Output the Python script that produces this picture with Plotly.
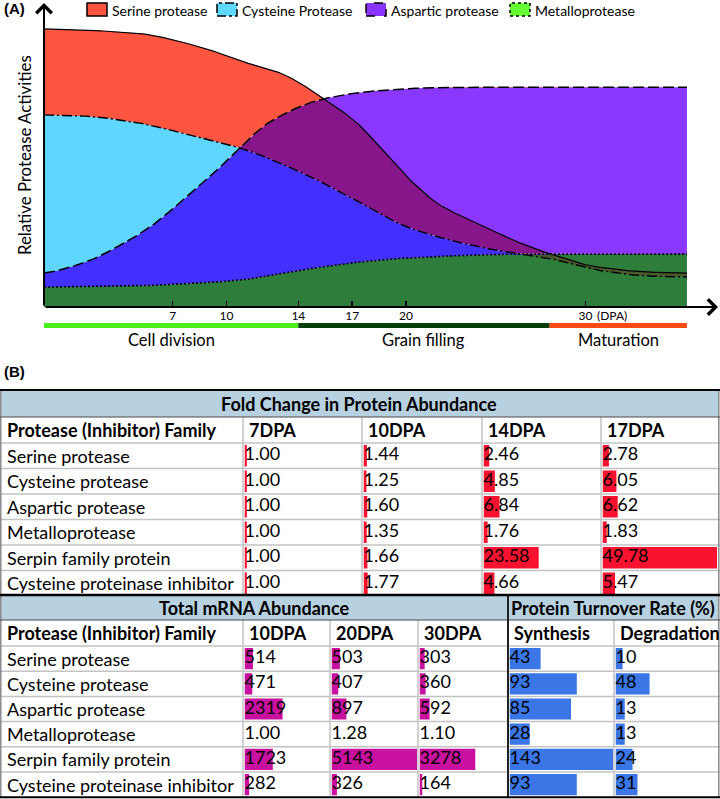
import numpy as np
import plotly.graph_objects as go

W, H = 720, 799

# ---------------- Panel A: schematic protease activity curves ----------------
# (x in DPA, y = relative activity)
serine_x = [-0.17, 4.79, 8.52, 10.75, 12.98, 15.38, 17.27, 18.55, 20.06, 21.89, 24.12, 25.96, 27.86, 30.64, 33.43, 35.65]
serine_y = [99.3, 97.9, 92.9, 87.9, 83.6, 74.6, 65.7, 57.1, 46.4, 36.4, 29.6, 23.9, 19.3, 14.3, 12.5, 12.1]

cysteine_x = [-0.17, 2.01, 4.79, 7.58, 10.75, 14.48, 16.88, 20.06, 24.12, 25.96, 27.86, 30.64, 33.43, 35.65]
cysteine_y = [68.6, 68.2, 66.1, 62.1, 56.8, 47.1, 39.3, 28.6, 21.4, 19.3, 17.5, 13.2, 11.1, 10.7]

aspartic_x = [-0.17, 2.01, 3.90, 5.74, 7.58, 9.47, 10.75, 12.59, 15.38, 18.16, 20.95, 24.12, 35.65]
aspartic_y = [12.1, 15.7, 21.4, 28.6, 38.2, 48.9, 57.1, 66.8, 74.3, 77.1, 78.2, 78.5, 78.5]

metallo_x = [-0.17, 4.79, 8.52, 10.75, 13.54, 16.88, 20.06, 24.12, 26.35, 35.65]
metallo_y = [7.1, 7.5, 8.6, 9.6, 12.5, 15.7, 17.5, 18.6, 18.9, 18.9]

tick_vals = [7, 10, 14, 17, 20, 30]
tick_text = ["7", "10", "14", "17", "20", "30"]

phase_names = ["Cell division", "Grain filling", "Maturation"]
phase_start = [-0.17, 14, 28]
phase_end = [14, 28, 35.65]
phase_colors = ["#4BEF1C", "#063E0B", "#FF4A14"]

legend_names = ["Serine protease", "Cysteine Protease", "Aspartic protease", "Metalloprotease"]
legend_colors = ["#FF5540", "#5FD8FF", "#8833FF", "#66FF33"]
legend_dash = ["solid", "dashdot", "dash", "dot"]

# ---------------- Panel B: tables ----------------
families = ["Serine protease", "Cysteine protease", "Aspartic protease", "Metalloprotease",
            "Serpin family protein", "Cysteine proteinase inhibitor"]

fc_cols = ["7DPA", "10DPA", "14DPA", "17DPA"]
fc_7dpa = [1.00, 1.00, 1.00, 1.00, 1.00, 1.00]
fc_10dpa = [1.44, 1.25, 1.60, 1.35, 1.66, 1.77]
fc_14dpa = [2.46, 4.85, 6.84, 1.76, 23.58, 4.66]
fc_17dpa = [2.78, 6.05, 6.62, 1.83, 49.78, 5.47]

mrna_cols = ["10DPA", "20DPA", "30DPA"]
mrna_10dpa = [514, 471, 2319, 1.00, 1723, 282]
mrna_20dpa = [503, 407, 897, 1.28, 5143, 326]
mrna_30dpa = [303, 360, 592, 1.10, 3278, 164]

turn_cols = ["Synthesis", "Degradation"]
turn_synthesis = [43, 93, 85, 28, 143, 93]
turn_degradation = [10, 48, 13, 13, 24, 31]


def pchip(xk, yk, xs):
    xk = np.asarray(xk, float); yk = np.asarray(yk, float)
    h = np.diff(xk); d = np.diff(yk) / h
    n = len(xk); m = np.zeros(n)
    for k in range(1, n - 1):
        if d[k - 1] * d[k] > 0:
            w1 = 2 * h[k] + h[k - 1]; w2 = h[k] + 2 * h[k - 1]
            m[k] = (w1 + w2) / (w1 / d[k - 1] + w2 / d[k])
    m[0] = d[0] * 0.5; m[-1] = d[-1] * 0.5
    idx = np.clip(np.searchsorted(xk, xs) - 1, 0, n - 2)
    t = (xs - xk[idx]) / h[idx]
    h00 = 2 * t**3 - 3 * t**2 + 1; h10 = t**3 - 2 * t**2 + t
    h01 = -2 * t**3 + 3 * t**2; h11 = t**3 - t**2
    return h00 * yk[idx] + h10 * h[idx] * m[idx] + h01 * yk[idx + 1] + h11 * h[idx] * m[idx + 1]


xs = np.linspace(-0.17, 35.65, 700)
S = pchip(serine_x, serine_y, xs)
C = pchip(cysteine_x, cysteine_y, xs)
A = pchip(aspartic_x, aspartic_y, xs)
M = pchip(metallo_x, metallo_y, xs)
mx = np.maximum; mn = np.minimum

bands = [
    ("#2E7D3A", np.zeros_like(xs), M),
    ("#4B5A2C", mn(mn(S, C), M), mn(mx(S, C), M)),
    ("#4430FE", M, mx(M, mn(A, C))),
    ("#5ED6FD", mx(M, A), mx(mx(M, A), C)),
    ("#86168A", mx(M, C), mx(mx(M, C), mn(A, S))),
    ("#8A38FF", mx(mx(M, C), S), mx(mx(mx(M, C), S), A)),
    ("#FE5541", mx(mx(M, C), A), mx(mx(mx(M, C), A), S)),
]

fig = go.Figure()
for color, lo, hi in bands:
    fig.add_trace(go.Scatter(x=np.concatenate([xs, xs[::-1]]), y=np.concatenate([hi, lo[::-1]]),
                             mode="lines", fill="toself", fillcolor=color, line=dict(width=0),
                             hoverinfo="skip", showlegend=False))

line_specs = [(S, "solid", 1.2), (C, "10px,3px,2px,3px", 1.4), (A, "11px,4px", 1.5), (M, "2px,2px", 1.6)]
for yv, dash, wdt in line_specs:
    fig.add_trace(go.Scatter(x=xs, y=yv, mode="lines", line=dict(color="black", width=wdt, dash=dash),
                             hoverinfo="skip", showlegend=False))

shapes = []
annotations = []


def PX(x):
    return x / W


def PY(y):
    return 1 - y / H


# phase bar
for name, s, e, c in zip(phase_names, phase_start, phase_end, phase_colors):
    shapes.append(dict(type="rect", xref="x", yref="paper", x0=s, x1=e, y0=PY(328), y1=PY(323),
                       fillcolor=c, line=dict(width=0)))
    annotations.append(dict(x=(s + e) / 2, y=PY(340), xref="x", yref="paper", text=name, showarrow=False,
                            font=dict(family="Lato", size=16.5, color="black"), xanchor="center", yanchor="middle"))

annotations.append(dict(x=30, y=PY(316), xref="x", yref="paper", text="(DPA)", showarrow=False, xshift=9,
                        font=dict(family="Lato", size=12, color="black"), xanchor="left", yanchor="middle"))

# axis arrows
annotations.append(dict(x=PX(718), y=PY(307), xref="paper", yref="paper", ax=-674, ay=0, text="",
                        showarrow=True, arrowhead=4, arrowsize=1.5, arrowwidth=2, arrowcolor="black"))
annotations.append(dict(x=PX(44), y=PY(3), xref="paper", yref="paper", ax=0, ay=304, text="",
                        showarrow=True, arrowhead=4, arrowsize=1.5, arrowwidth=2, arrowcolor="black"))

annotations.append(dict(x=PX(24), y=PY(155), xref="paper", yref="paper", text="Relative Protease Activities",
                        textangle=-90, showarrow=False, font=dict(family="Lato", size=16.8, color="black"),
                        xanchor="center", yanchor="middle"))

annotations.append(dict(x=PX(2), y=PY(9), xref="paper", yref="paper", text="<b>(A)</b>", showarrow=False,
                        font=dict(family="Liberation Sans", size=15, color="black"), xanchor="left", yanchor="middle"))
annotations.append(dict(x=PX(2), y=PY(371), xref="paper", yref="paper", text="<b>(B)</b>", showarrow=False,
                        font=dict(family="Liberation Sans", size=15, color="black"), xanchor="left", yanchor="middle"))

# legend
leg_x = [87, 217, 366, 510]
for name, c, d, lx in zip(legend_names, legend_colors, legend_dash, leg_x):
    shapes.append(dict(type="rect", xref="paper", yref="paper", x0=PX(lx), x1=PX(lx + 20), y0=PY(16), y1=PY(3),
                       fillcolor=c, line=dict(color="black", width=1.5, dash=d)))
    annotations.append(dict(x=PX(lx + 23), y=PY(10), xref="paper", yref="paper", text=name, showarrow=False,
                            font=dict(family="Lato", size=14, color="black"), xanchor="left", yanchor="middle"))

# ---------------- tables ----------------
TF = "Lato"
TS = 18
GRID = "#C3C3C3"


def hline(y, x0=0, x1=W, color=GRID, w=1.5):
    shapes.append(dict(type="line", xref="paper", yref="paper", x0=PX(x0), x1=PX(x1), y0=PY(y), y1=PY(y),
                       line=dict(color=color, width=w)))


def vline(x, y0, y1, color=GRID, w=1.5):
    shapes.append(dict(type="line", xref="paper", yref="paper", x0=PX(x), x1=PX(x), y0=PY(y0), y1=PY(y1),
                       line=dict(color=color, width=w)))


def txt(x, y, s, anchor="left", bold=False):
    annotations.append(dict(x=PX(x), y=PY(y), xref="paper", yref="paper", text=("<b>%s</b>" % s) if bold else s,
                            showarrow=False, font=dict(family=TF, size=TS, color="black"),
                            xanchor=anchor, yanchor="middle"))


layout_axes = {}
axis_counter = [2]


def add_column(values, left, right, vmax, yn, color, fmt):
    n = axis_counter[0]; axis_counter[0] += 1
    layout_axes["xaxis%d" % n] = dict(domain=[PX(left + 1.5), PX(right - 1)], range=[0, vmax], visible=False,
                                      anchor="y%d" % yn, fixedrange=True)
    rows = list(range(len(values)))
    fig.add_trace(go.Bar(x=values, y=rows, orientation="h", width=0.84, marker=dict(color=color, line=dict(width=0)),
                         xaxis="x%d" % n, yaxis="y%d" % yn, hoverinfo="skip", showlegend=False))
    fig.add_trace(go.Scatter(x=[0] * len(values), y=rows, mode="text", text=[fmt(v) for v in values],
                             textposition="middle right", textfont=dict(family=TF, size=TS, color="black"),
                             xaxis="x%d" % n, yaxis="y%d" % yn, cliponaxis=False, hoverinfo="skip", showlegend=False))


# Table 1
t1_cols = [0, 243, 362, 482, 601, 718]
t1_top, t1_band, t1_hdr = 390, 417, 443
t1_rh = 25.5
t1_bot = t1_hdr + 6 * t1_rh
shapes.append(dict(type="rect", xref="paper", yref="paper", x0=PX(0), x1=PX(719), y0=PY(t1_band), y1=PY(t1_top),
                   fillcolor="#B7D1E1", line=dict(width=0), layer="below"))
txt(359, (t1_top + t1_band) / 2, "Fold Change in Protein Abundance", anchor="center", bold=True)
txt(5, (t1_band + t1_hdr) / 2, "Protease (Inhibitor) Family", bold=True)
for c, name in zip(t1_cols[1:-1], fc_cols):
    txt(c + 4, (t1_band + t1_hdr) / 2, name, bold=True)
for i, f in enumerate(families):
    txt(5, t1_hdr + t1_rh * (i + 0.5), f)
layout_axes["yaxis2"] = dict(domain=[PY(t1_bot), PY(t1_hdr)], range=[5.5, -0.5], visible=False, anchor="x2",
                             fixedrange=True)
fc_max = max(fc_17dpa + fc_14dpa)
for vals, l, r in zip([fc_7dpa, fc_10dpa, fc_14dpa, fc_17dpa], t1_cols[1:-1], t1_cols[2:]):
    add_column(vals, l, r, fc_max, 2, "#F9122F", lambda v: "%.2f" % v)
for k in range(6):
    hline(t1_hdr + t1_rh * k)
for c in t1_cols[1:-1]:
    vline(c, t1_band, t1_bot)
vline(0.8, t1_top, t1_bot, "#8A8A8A", 1.5)
vline(718.8, t1_top, t1_bot, "#8A8A8A", 1.5)
hline(t1_band, color="#4A4A4A", w=1.2)
hline(t1_top, color="black", w=2)

# Table 2
t2_cols = [0, 243, 330, 418, 508, 614, 718]
t2_top, t2_band, t2_hdr = 595, 620, 646
t2_rh = 25.2
t2_bot = t2_hdr + 6 * t2_rh
shapes.append(dict(type="rect", xref="paper", yref="paper", x0=PX(0), x1=PX(719), y0=PY(t2_band), y1=PY(t2_top),
                   fillcolor="#B7D1E1", line=dict(width=0), layer="below"))
txt(254, (t2_top + t2_band) / 2, "Total mRNA Abundance", anchor="center", bold=True)
txt(613, (t2_top + t2_band) / 2, "Protein Turnover Rate (%)", anchor="center", bold=True)
txt(5, (t2_band + t2_hdr) / 2, "Protease (Inhibitor) Family", bold=True)
for c, name in zip(t2_cols[1:-1], mrna_cols + turn_cols):
    txt(c + 4, (t2_band + t2_hdr) / 2, name, bold=True)
for i, f in enumerate(families):
    txt(5, t2_hdr + t2_rh * (i + 0.5), f)
layout_axes["yaxis3"] = dict(domain=[PY(t2_bot), PY(t2_hdr)], range=[5.5, -0.5], visible=False, anchor="x6",
                             fixedrange=True)
mrna_max = max(mrna_10dpa + mrna_20dpa + mrna_30dpa)
mfmt = lambda v: ("%.2f" % v) if v < 100 else ("%d" % v)
for vals, l, r in zip([mrna_10dpa, mrna_20dpa, mrna_30dpa], t2_cols[1:4], t2_cols[2:5]):
    add_column(vals, l, r, mrna_max, 3, "#C8119E", mfmt)
turn_max = max(turn_synthesis + turn_degradation)
for vals, l, r in zip([turn_synthesis, turn_degradation], t2_cols[4:6], t2_cols[5:7]):
    add_column(vals, l, r, turn_max, 3, "#3A76E6", lambda v: "%d" % v)
for k in range(6):
    hline(t2_hdr + t2_rh * k)
for c in [243, 330, 418, 614]:
    vline(c, t2_band, t2_bot)
vline(0.8, t2_top, t2_bot, "#8A8A8A", 1.5)
vline(718.8, t2_top, t2_bot, "#8A8A8A", 1.5)
hline(t2_band, color="#4A4A4A", w=1.2)
vline(508, t2_top, t2_bot, "#222222", 2)
hline(t2_top, color="black", w=2.5)
hline(t2_bot, color="black", w=2)

fig.update_layout(
    width=W, height=H, margin=dict(l=0, r=0, t=0, b=0),
    paper_bgcolor="white", plot_bgcolor="rgba(0,0,0,0)", showlegend=False,
    barmode="overlay", hovermode=False,
    xaxis=dict(domain=[PX(44), PX(718)], range=[-0.17, 37.38], tickvals=tick_vals, ticktext=tick_text,
               ticks="inside", ticklen=6, tickwidth=1.5, tickcolor="black", showline=False, showgrid=False,
               zeroline=False, tickfont=dict(family="Lato", size=12, color="black"), fixedrange=True),
    yaxis=dict(domain=[PY(307), PY(3)], range=[0, 108.57], visible=False, fixedrange=True),
    shapes=shapes, annotations=annotations,
    **layout_axes,
)

# remove the browser's default 8px page margin so the 720x799 figure fills the window exactly
fig.write_html("out.html", config={"displayModeBar": False, "staticPlot": True},
               post_script="document.body.style.margin='0px';")
